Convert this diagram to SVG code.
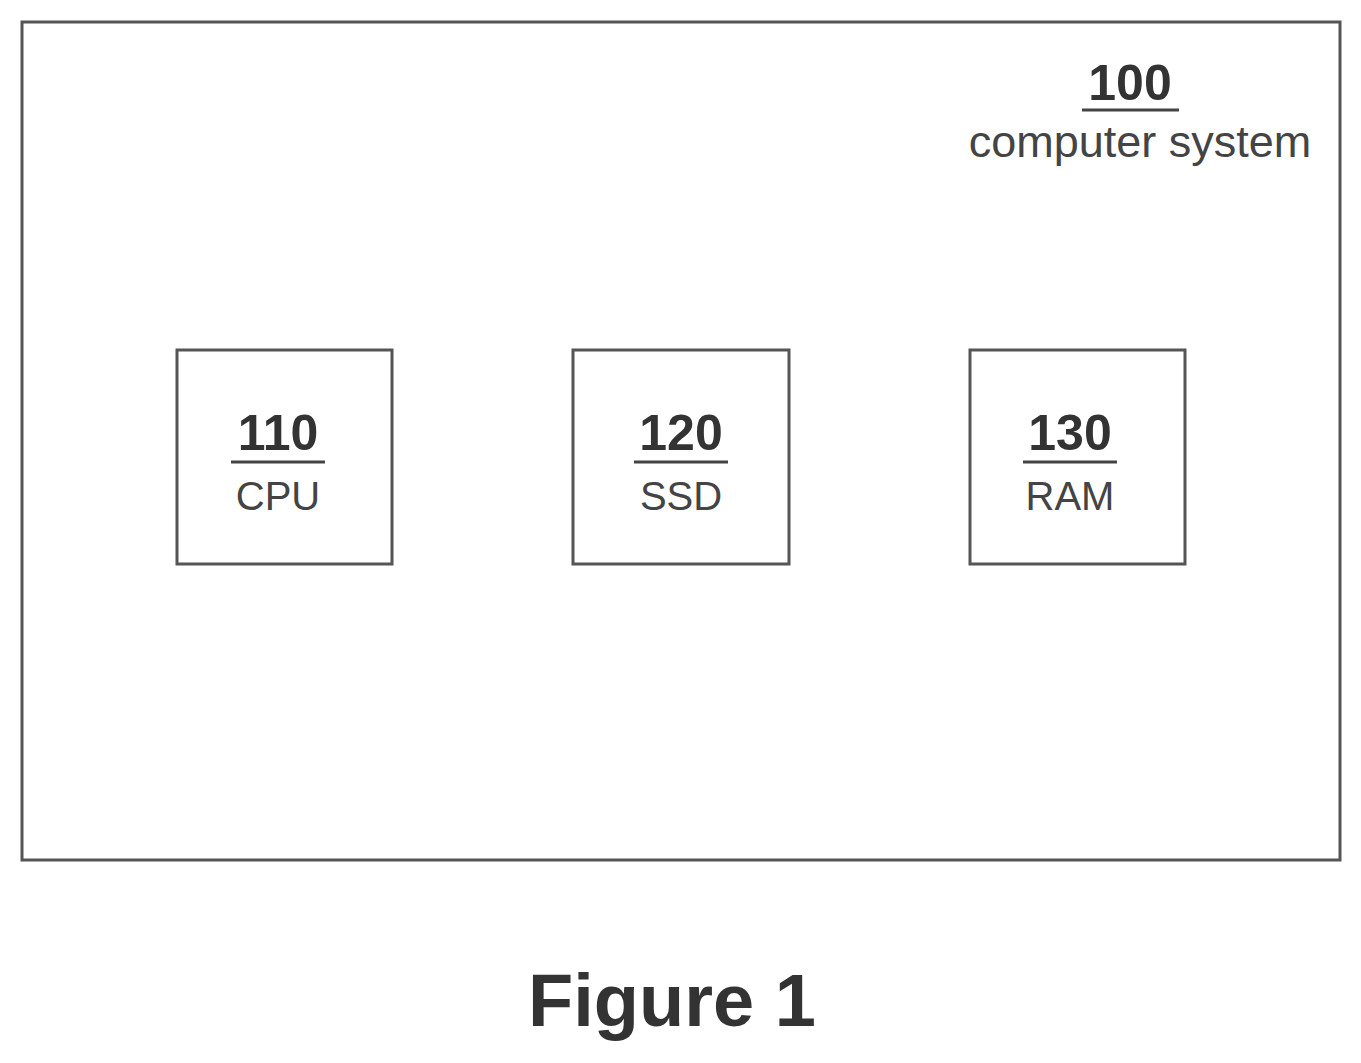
<svg xmlns="http://www.w3.org/2000/svg" width="1361" height="1063" viewBox="0 0 1361 1063">
<style>
.b{fill:none;stroke:#555;stroke-width:3}
.n{font-family:"Liberation Sans",Arial,sans-serif;font-size:50px;font-weight:bold;fill:#333;text-anchor:middle}
.l{font-family:"Liberation Sans",Arial,sans-serif;font-size:40px;fill:#444;text-anchor:middle}
.u{stroke:#444;stroke-width:3}
</style>
<rect width="1361" height="1063" fill="#fff"/>
<g id="system">
<rect class="b" x="22" y="22" width="1318" height="838"/>
<text class="n" x="1130" y="100">100</text>
<line class="u" x1="1082" y1="110" x2="1179" y2="110"/>
<text class="l" x="1140" y="157" style="font-size:45px">computer system</text>
</g>
<g id="cpu">
<rect class="b" x="177" y="350" width="215" height="214"/>
<text class="n" x="278" y="450">110</text>
<line class="u" x1="231" y1="462" x2="325" y2="462"/>
<text class="l" x="278" y="510">CPU</text>
</g>
<g id="ssd">
<rect class="b" x="573" y="350" width="216" height="214"/>
<text class="n" x="681" y="450">120</text>
<line class="u" x1="634" y1="462" x2="728" y2="462"/>
<text class="l" x="681" y="510">SSD</text>
</g>
<g id="ram">
<rect class="b" x="970" y="350" width="215" height="214"/>
<text class="n" x="1070" y="450">130</text>
<line class="u" x1="1023" y1="462" x2="1117" y2="462"/>
<text class="l" x="1070" y="510">RAM</text>
</g>
<g id="connectors"/>
<text x="672" y="1026" style="font-family:'Liberation Sans',Arial,sans-serif;font-size:74px;font-weight:bold;fill:#333;text-anchor:middle">Figure 1</text>
</svg>
